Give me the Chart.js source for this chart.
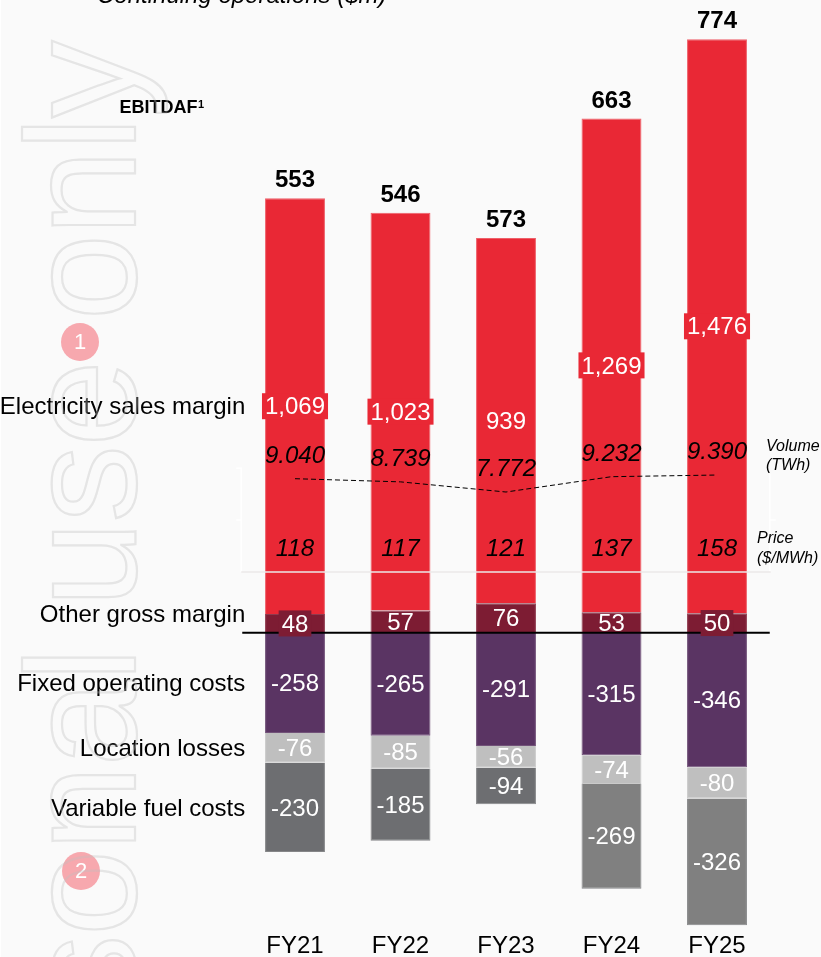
<!DOCTYPE html>
<html>
<head>
<meta charset="utf-8">
<style>
html,body{margin:0;padding:0;background:#fff;overflow:hidden}
canvas{display:block}
</style>
<script src="https://cdn.jsdelivr.net/npm/chart.js@4"></script>
</head>
<body>
<canvas id="c" width="821" height="957"></canvas>
<script>
const categories = ["FY21", "FY22", "FY23", "FY24", "FY25"];
const totals = [553, 546, 573, 663, 774];
const electricity = [1069, 1023, 939, 1269, 1476];
const otherMargin = [48, 57, 76, 53, 50];
const fixedCosts = [-258, -265, -291, -315, -346];
const locationLosses = [-76, -85, -56, -74, -80];
const fuelCosts = [-230, -185, -94, -269, -326];
const volume = [9.040, 8.739, 7.772, 9.232, 9.390];
const price = [118, 117, 121, 137, 158];
const rowLabels = ["Electricity sales margin", "Other gross margin", "Fixed operating costs", "Location losses", "Variable fuel costs"];

const FONT = '"Liberation Sans", Arial, sans-serif';
const fmt = v => v.toLocaleString('en-US');
const RED = '#E92835', WINE = '#7D1C33', PURPLE = '#5A3463', LIGHT = '#BFBFBF';
const fuelColors = ['#6D6E71', '#6D6E71', '#6D6E71', '#808080', '#808080'];
const elecBoxed = [true, true, false, true, true];
const otherBoxed = [true, false, false, false, true];

function text(ctx, s, x, y, font, color, align) {
  ctx.font = font + ' ' + FONT;
  ctx.fillStyle = color;
  ctx.textAlign = align || 'center';
  ctx.textBaseline = 'middle';
  ctx.fillText(s, x, y + 1.5);
}

const annotations = {
  id: 'annotations',
  beforeDraw(chart) {
    const { ctx } = chart;
    ctx.save();
    ctx.fillStyle = '#FAFAFA';
    ctx.fillRect(1, 0, 820, 957);
    ctx.restore();
  },
  afterDatasetsDraw(chart) {
    const { ctx, chartArea: a, scales: { y } } = chart;
    const bars = i => chart.getDatasetMeta(i).data;
    const line = chart.getDatasetMeta(5).data;
    ctx.save();

    // white brackets and price baseline
    const baseY = y.getPixelForValue(156);
    ctx.strokeStyle = '#FFFFFF'; ctx.lineWidth = 1.5;
    ctx.beginPath();
    ctx.moveTo(a.left - 6, y.getPixelForValue(423)); ctx.lineTo(a.left - 1, y.getPixelForValue(423));
    ctx.lineTo(a.left - 1, baseY);
    ctx.moveTo(a.left - 6, y.getPixelForValue(290)); ctx.lineTo(a.left - 1, y.getPixelForValue(290));
    ctx.moveTo(a.right, y.getPixelForValue(408)); ctx.lineTo(a.right, baseY);
    ctx.moveTo(a.right, y.getPixelForValue(290)); ctx.lineTo(a.right + 6, y.getPixelForValue(290));
    ctx.stroke();
    ctx.strokeStyle = '#EBE8E8'; ctx.lineWidth = 1.5;
    ctx.beginPath(); ctx.moveTo(a.left - 1, baseY); ctx.lineTo(a.right + 1, baseY); ctx.stroke();

    // zero line
    const zero = y.getPixelForValue(0);
    ctx.strokeStyle = '#000'; ctx.lineWidth = 2;
    ctx.beginPath(); ctx.moveTo(a.left, zero); ctx.lineTo(a.right, zero); ctx.stroke();

    // value labels
    const box = (el, s, color, h) => {
      ctx.font = '24px ' + FONT;
      const w = ctx.measureText(s).width + 6;
      ctx.fillStyle = color;
      ctx.fillRect(el.x - w / 2, el.getCenterPoint().y - h / 2, w, h);
    };
    categories.forEach((c, i) => {
      const other = bars(0)[i], elec = bars(1)[i];
      const cx = elec.x;
      if (elecBoxed[i]) box(elec, fmt(electricity[i]), RED, 26);
      text(ctx, fmt(electricity[i]), cx, elec.getCenterPoint().y, '24px', '#fff');
      if (otherBoxed[i]) box(other, fmt(otherMargin[i]), WINE, 26);
      text(ctx, fmt(otherMargin[i]), cx, other.getCenterPoint().y, '24px', '#fff');
      text(ctx, fmt(fixedCosts[i]), cx, bars(2)[i].getCenterPoint().y, '24px', '#fff');
      text(ctx, fmt(locationLosses[i]), cx, bars(3)[i].getCenterPoint().y, '24px', '#fff');
      text(ctx, fmt(fuelCosts[i]), cx, bars(4)[i].getCenterPoint().y, '24px', '#fff');
      text(ctx, String(totals[i]), cx, elec.y - 19, 'bold 24px', '#000');
      text(ctx, volume[i].toFixed(3), cx, line[i].y - 24, 'italic 24px', '#000');
      text(ctx, String(price[i]), cx, y.getPixelForValue(219), 'italic 24px', '#000');
    });

    // row labels, aligned with the FY21 segments
    const rx = a.left + 3;
    const first = [0, 1, 2, 3, 4].map(k => bars(k)[0].getCenterPoint().y);
    text(ctx, rowLabels[0], rx, first[1], '24px', '#000', 'right');
    text(ctx, rowLabels[1], rx, first[0] - 10, '24px', '#000', 'right');
    text(ctx, rowLabels[2], rx, first[2], '24px', '#000', 'right');
    text(ctx, rowLabels[3], rx, first[3], '24px', '#000', 'right');
    text(ctx, rowLabels[4], rx, first[4], '24px', '#000', 'right');

    // header and side notes
    text(ctx, 'Continuing operations ($m)', 97, -5.5, 'italic 24px', '#000', 'left');
    text(ctx, 'EBITDAF', 119.5, 107, 'bold 18px', '#000', 'left');
    const ebw = ctx.measureText('EBITDAF').width;
    text(ctx, '1', 119.5 + ebw + 0.5, 103, 'bold 11px', '#000', 'left');
    text(ctx, 'Volume', 766, 445, 'italic 16px', '#000', 'left');
    text(ctx, '(TWh)', 766, 464, 'italic 16px', '#000', 'left');
    text(ctx, 'Price', 757, 537, 'italic 16px', '#000', 'left');
    text(ctx, '($/MWh)', 757, 557, 'italic 16px', '#000', 'left');

    // numbered callouts
    [['1', 80, 342], ['2', 81, 871]].forEach(([n, cx, cy]) => {
      ctx.fillStyle = '#F7A8AE';
      ctx.beginPath(); ctx.arc(cx, cy, 19, 0, Math.PI * 2); ctx.fill();
      text(ctx, n, cx, cy - 1, '22px', '#fff');
    });

    // outlined watermark
    ctx.translate(135, 42);
    ctx.rotate(-Math.PI / 2);
    ctx.font = '155px ' + FONT;
    ctx.letterSpacing = '-1.5px';
    ctx.textAlign = 'right';
    ctx.textBaseline = 'alphabetic';
    ctx.strokeStyle = 'rgba(190,190,190,0.36)';
    ctx.lineWidth = 2.2;
    ctx.strokeText('Personal use only', 0, 0);
    ctx.restore();
  }
};

const barSet = (label, data, color, border) => ({
  type: 'bar', label, data, backgroundColor: color, borderColor: border,
  borderWidth: 1, barPercentage: 0.568, categoryPercentage: 1, stack: 's', order: 2
});

new Chart(document.getElementById('c'), {
  data: {
    labels: categories,
    datasets: [
      barSet(rowLabels[1], otherMargin, WINE, '#8E3A4E'),
      barSet(rowLabels[0], electricity, RED, '#EE5F69'),
      barSet(rowLabels[2], fixedCosts, PURPLE, '#725279'),
      barSet(rowLabels[3], locationLosses, LIGHT, '#CACACA'),
      barSet(rowLabels[4], fuelCosts, fuelColors, '#858688'),
      { type: 'line', label: 'Volume', data: volume, yAxisID: 'y2', borderColor: '#000', borderWidth: 1,
        borderDash: [5, 3], pointRadius: 0, tension: 0, fill: false, order: 1 }
    ]
  },
  options: {
    responsive: false,
    animation: false,
    devicePixelRatio: 1,
    layout: { padding: { left: 242.25, right: 51.25, top: 0, bottom: 0 } },
    plugins: { legend: { display: false }, tooltip: { enabled: false }, title: { display: false } },
    scales: {
      x: {
        stacked: true,
        grid: { display: false, drawTicks: false },
        border: { display: false },
        ticks: { color: '#000', font: { family: FONT, size: 24 }, padding: 2, maxRotation: 0, autoSkip: false },
        afterFit(s) { s.height = 27; }
      },
      y: { stacked: true, display: false, min: -764.3, max: 1627 },
      y2: { display: false, min: -33.94, max: 54.63 }
    }
  },
  plugins: [annotations]
});
</script>
</body>
</html>
